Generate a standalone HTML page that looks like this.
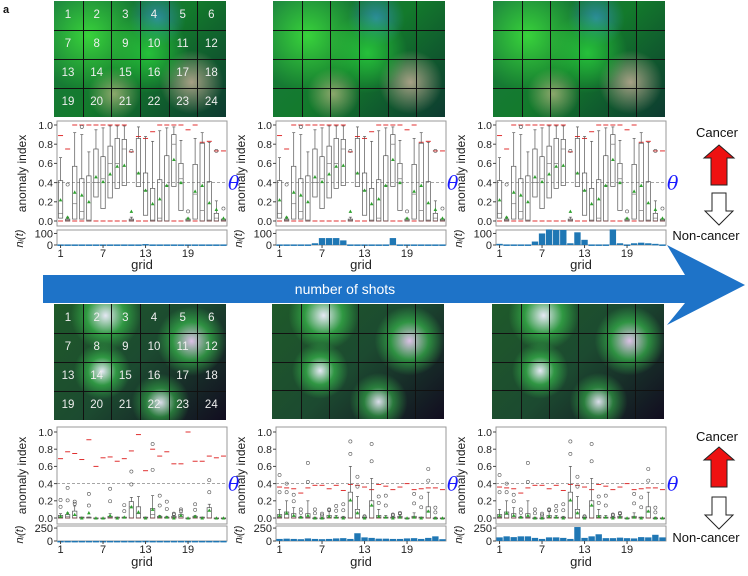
<!DOCTYPE html>
<html><head><meta charset="utf-8">
<style>
body{margin:0;background:#fff;}
#root{position:relative;width:748px;height:576px;overflow:hidden;font-family:"Liberation Sans","DejaVu Sans",sans-serif;}
.img{position:absolute;overflow:hidden;}
.num{position:absolute;color:#eee;font-size:11.5px;text-align:center;width:28px;}
</style></head>
<body>
<div id="root">
<svg id="svg" width="748" height="576" style="position:absolute;left:0;top:0"></svg>
</div>
<script>
// ---- data ----
const grids = ["1","7","13","19"];
const gridTickIdx = [0,6,12,18];
const yTicks = [0,0.2,0.4,0.6,0.8,1.0];
const theta = 0.4;
// row 1 (early shots)
const r1Q1 = [.03,0,.02,.02,0,.25,.13,.24,.34,.37,0,.36,.06,0,0,0,.36,.11,0,.02,0,0,0,0];
const r1Q3 = [.42,.02,.57,.44,.47,.75,.67,.78,.86,.85,.02,.86,.50,.34,.43,.68,.90,.60,.02,.59,.81,.41,.08,.02];
const r1Med = [.08,.01,.18,.10,.01,.40,.44,.60,.60,.75,.01,.50,.32,.01,.03,.37,.80,.44,.01,.28,.11,.01,.03,.01];
const r1Hi = [.66,.04,.92,.90,.72,.95,.97,.99,.99,.99,.04,.98,.88,.83,.94,.97,.98,.84,.03,.86,.92,.82,.21,.02];
const r1Mean = [.22,.04,.30,.27,.20,.46,.41,.49,.57,.58,.10,.50,.32,.18,.23,.37,.64,.40,.03,.31,.37,.19,.12,.03];
const r1Red = [.89,.75,1,1,1,1,1,1,1,1,.72,.88,.86,.93,1,1,1,1,.95,1,.82,.83,.73,.73];
const r1Out = [0,.38,0,.98,0,0,0,0,0,0,.73,0,0,0,0,0,0,0,.10,0,0,0,.73,.13];
const c1Count1 = [5,5,5,5,5,5,5,5,5,5,5,5,8,5,5,5,5,5,5,5,5,5,5,5];
const c2Count1 = [5,5,5,5,5,15,60,60,60,40,5,5,5,5,5,5,60,5,5,5,5,5,5,5];
const c3Count1 = [10,5,5,5,5,30,100,135,130,130,15,110,45,5,5,5,135,15,5,15,20,15,10,5];
// row 2 (late shots)
const r2aQ3 = [.03,.04,.08,.01,.01,0,0,.02,.01,.01,.19,.13,.01,.11,.02,.01,.02,.04,0,.02,.01,.12,0,0];
const r2aMed = [.01,.02,.03,0,0,0,0,.01,0,0,.13,.05,0,.04,.01,0,.01,.02,0,.01,0,.08,0,0];
const r2aHi = [.05,.06,.14,.01,.01,0,0,.05,.01,.01,.24,.25,.01,.26,.03,.02,.03,.06,0,.03,.01,.16,0,0];
const r2aMean = [.02,.06,.04,0,.06,0,0,.03,0,.01,.13,.07,0,.10,.02,.01,0,.03,0,.02,0,.09,0,0];
const r2aRed = [.69,.77,.75,.68,.91,.60,.70,.71,.66,.69,.78,.97,.55,.80,.72,.77,.63,.63,1.0,.66,.66,.72,.70,.72];
const r2aOut = [.21,.35,.19,0,.28,0,0,.34,0,.15,.54,0,0,.86,.26,.19,.05,.1,0,.16,0,.44,0,0];
const r2bQ3 = [.04,.07,.05,.01,.05,0,0,.03,.01,.01,.30,.10,.01,.20,.03,.01,.01,.02,0,.02,.01,.13,0,0];
const r2bMed = [.01,.04,.02,0,.01,0,0,.01,0,0,.20,.06,0,.14,.01,0,0,.01,0,.01,0,.08,0,0];
const r2bHi = [.10,.20,.12,.02,.20,.01,.01,.08,.03,.02,.60,.25,.01,.46,.10,.03,.02,.04,0,.06,.01,.30,.01,0];
const r2bMean = [.03,.06,.03,.01,.03,0,0,.02,.01,0,.21,.06,0,.15,.02,.01,0,.01,0,.01,0,.08,0,0];
const r2bRed = [.36,.35,.34,.29,.35,.38,.38,.34,.38,.32,.39,.38,.36,.33,.39,.37,.33,.36,.40,.33,.34,.35,.35,.33];
const r2bOut = [.50,.40,.27,.10,.64,.10,.05,.10,.14,.16,.89,.48,.02,.86,.25,.26,.04,.06,0,.28,.24,.57,.12,0];
const c1Count2 = [2,2,2,2,2,2,2,2,2,2,2,2,4,2,2,2,2,2,2,2,2,2,2,2];
const c2Count2 = [40,45,40,35,50,40,35,40,50,55,40,150,70,60,45,45,40,40,50,55,40,60,90,35];
const c3Count2 = [70,90,75,90,90,60,40,70,70,60,40,270,60,90,130,55,55,65,55,50,75,70,120,70];

const S = document.getElementById('svg');
const NS = 'http://www.w3.org/2000/svg';
function mk(tag, attrs, parent){const e=document.createElementNS(NS,tag);for(const k in attrs)e.setAttribute(k,attrs[k]);(parent||S).appendChild(e);return e;}

const colX = [57,276,496];
const rows = [
 {top:121,bot:226,y0:221,y1:125,sTop:230,sBot:245,sMax:130,sTick:"100",sTickV:100,tickY:257,gridY:269},
 {top:427,bot:524,y0:518,y1:432,sTop:526,sBot:541,sMax:290,sTick:"250",sTickV:250,tickY:553,gridY:566}
];
const panels = [
 {r:0,c:0,q1:r1Q1,q3:r1Q3,med:r1Med,hi:r1Hi,mean:r1Mean,red:r1Red,out:r1Out,cnt:c1Count1},
 {r:0,c:1,q1:r1Q1,q3:r1Q3,med:r1Med,hi:r1Hi,mean:r1Mean,red:r1Red,out:r1Out,cnt:c2Count1},
 {r:0,c:2,q1:r1Q1,q3:r1Q3,med:r1Med,hi:r1Hi,mean:r1Mean,red:r1Red,out:r1Out,cnt:c3Count1},
 {r:1,c:0,q1:null,q3:r2aQ3,med:r2aMed,hi:r2aHi,mean:r2aMean,red:r2aRed,out:r2aOut,cnt:c1Count2},
 {r:1,c:1,q1:null,q3:r2bQ3,med:r2bMed,hi:r2bHi,mean:r2bMean,red:r2bRed,out:r2bOut,cnt:c2Count2},
 {r:1,c:2,q1:null,q3:r2bQ3,med:r2bMed,hi:r2bHi,mean:r2bMean,red:r2bRed,out:r2bOut,cnt:c3Count2}
];
const W = 170;

// big arrow
const arrow = mk('polygon',{points:"43,275 685,275 667,245 745,285 667,325 685,303 43,303",fill:"#1e73c8"});


const at = mk('text',{x:345,y:294,'font-size':14,fill:'#fff','text-anchor':'middle'});
at.textContent='number of shots';



panels.forEach((p,pi)=>{
  const R = rows[p.r], x0 = colX[p.c];
  const step = W/24;
  const X = i => x0 + (i+0.5)*step;
  const Y = v => R.y0 - v*(R.y0-R.y1);
  const g = mk('g',{});
  
  
  mk('rect',{x:x0,y:R.top,width:W,height:R.bot-R.top,fill:'#fff',stroke:'#999','stroke-width':1},g);
  yTicks.forEach(v=>{
    mk('line',{x1:x0-3,x2:x0,y1:Y(v),y2:Y(v),stroke:'#444'},g);
    const t=mk('text',{x:x0-4,y:Y(v)+3.8,'font-size':10.5,'text-anchor':'end',fill:'#222'},g);
    t.textContent=v.toFixed(1);
  });
  const yl=mk('text',{x:0,y:0,'font-size':12,'text-anchor':'middle',fill:'#222',transform:`translate(${x0-31},${(R.top+R.bot)/2}) rotate(-90)`},g);
  yl.textContent='anomaly index';
  
  
  mk('line',{x1:x0,x2:x0+W,y1:Y(theta),y2:Y(theta),stroke:'#888','stroke-dasharray':'3,2','stroke-width':0.8},g);
  const th=mk('text',{x:x0+W+1,y:Y(theta)+7,'font-size':19,'font-style':'italic',fill:'#1a1aff','font-family':'DejaVu Serif,serif'},g);
  th.textContent='θ';
  
  
  for(let i=0;i<24;i++){
    const cx=X(i), bw=step*0.62;
    const q1=p.q1?p.q1[i]:0;
    mk('line',{x1:cx-2.5,x2:cx+2.5,y1:Y(p.red[i]),y2:Y(p.red[i]),stroke:'#e03030','stroke-width':1},g);
    mk('line',{x1:cx-2.5,x2:cx+2.5,y1:Y(0),y2:Y(0),stroke:'#e03030','stroke-width':1},g);
    mk('line',{x1:cx,x2:cx,y1:Y(p.q3[i]),y2:Y(p.hi[i]),stroke:'#555','stroke-width':0.7},g);
    mk('line',{x1:cx-1.5,x2:cx+1.5,y1:Y(p.hi[i]),y2:Y(p.hi[i]),stroke:'#555','stroke-width':0.7},g);
    const b=mk('rect',{x:cx-bw/2,y:Y(p.q3[i]),width:bw,height:Math.max(0.8,Y(q1)-Y(p.q3[i])),fill:'none',stroke:'#555','stroke-width':0.7},g);
    
    
    mk('line',{x1:cx-bw/2,x2:cx+bw/2,y1:Y(p.med[i]),y2:Y(p.med[i]),stroke:'#777','stroke-width':0.7},g);
    if(p.out[i]>0){
      mk('circle',{cx:cx,cy:Y(p.out[i]),r:1.6,fill:'none',stroke:'#555','stroke-width':0.6},g);
      if(p.r===1) mk('circle',{cx:cx,cy:Y((p.out[i]+p.hi[i])/2),r:1.6,fill:'none',stroke:'#555','stroke-width':0.6},g);
    }
    mk('polygon',{points:`${cx-1.8},${Y(p.mean[i])+1.5} ${cx+1.8},${Y(p.mean[i])+1.5} ${cx},${Y(p.mean[i])-1.8}`,fill:'#2ca02c'},g);
  }
  mk('rect',{x:x0,y:R.sTop,width:W,height:R.sBot-R.sTop,fill:'#fff',stroke:'#999'},g);
  const SY = v => R.sBot - v/R.sMax*(R.sBot-R.sTop);
  [[R.sTick,R.sTickV],["0",0]].forEach(([lab,v])=>{
    const t=mk('text',{x:x0-4,y:SY(v)+4,'font-size':11,'text-anchor':'end',fill:'#222'},g);t.textContent=lab;
    mk('line',{x1:x0-3,x2:x0,y1:SY(v),y2:SY(v),stroke:'#444'},g);
  });
  const nl=mk('text',{x:0,y:0,'font-size':11,'font-style':'italic','text-anchor':'middle',fill:'#222',transform:`translate(${x0-34},${(R.sTop+R.sBot)/2+1}) rotate(-90)`},g);
  nl.textContent='nᵢ(t)';
  for(let i=0;i<24;i++){
    const bar=mk('rect',{x:X(i)-step*0.45,y:SY(p.cnt[i]),width:step*0.9,height:Math.max(1.5,R.sBot-SY(p.cnt[i])),fill:'#1f77b4'},g);
    
    
  }
  gridTickIdx.forEach((gi,k)=>{
    mk('line',{x1:X(gi),x2:X(gi),y1:R.sBot,y2:R.sBot+3,stroke:'#444'},g);
    const t=mk('text',{x:X(gi),y:R.tickY,'font-size':11,'text-anchor':'middle',fill:'#222'},g);t.textContent=grids[k];
  });
  const gl=mk('text',{x:x0+W/2,y:R.gridY,'font-size':13,'text-anchor':'middle',fill:'#222'},g);
  gl.textContent='grid';
  
  
});

[[137,240,145,193],[441,542,447,497]].forEach(([cy,ny,ry,wy],k)=>{
  const c=mk('text',{x:717,y:cy,'font-size':13,'text-anchor':'middle',fill:'#111'});c.textContent='Cancer';
  
  
  mk('polygon',{points:`711,${ry+40} 711,${ry+13} 704,${ry+13} 719,${ry} 734,${ry+13} 727,${ry+13} 727,${ry+40}`,fill:'#ee1111',stroke:'#222','stroke-width':1});
  mk('polygon',{points:`712,${wy} 712,${wy+18} 705,${wy+18} 719,${wy+32} 733,${wy+18} 726,${wy+18} 726,${wy}`,fill:'#fff',stroke:'#222','stroke-width':1});
  const n=mk('text',{x:706,y:ny,'font-size':13,'text-anchor':'middle',fill:'#111'});n.textContent='Non-cancer';
  
  
});
const lab=mk('text',{x:3,y:13,'font-size':11,'font-weight':'bold',fill:'#111'});lab.textContent='a';

const root=document.getElementById('root');
const imgs=[[54,1,116,0],[273,1,116,0],[493,1,116,0],[54,304,116,1],[272,304,115,1],[492,304,115,1]];
imgs.forEach(([x,y,h,r],k)=>{
  const d=document.createElement('div');
  d.className='img';
  
  
  d.style.left=x+'px';d.style.top=y+'px';d.style.width='172px';d.style.height=h+'px';
  d.style.background = r===0 ?
   'radial-gradient(circle at 20% 30%,rgba(60,220,60,.9),transparent 35%),radial-gradient(circle at 55% 45%,rgba(40,200,60,.9),transparent 35%),radial-gradient(circle at 80% 70%,rgba(230,190,170,.7),transparent 20%),radial-gradient(circle at 35% 80%,rgba(220,200,150,.6),transparent 18%),radial-gradient(circle at 60% 15%,rgba(60,150,230,.6),transparent 20%),linear-gradient(135deg,#1a7a40,#137a2c 50%,#0d3a30)' :
   'radial-gradient(circle at 30% 10%,rgba(240,240,255,.95),rgba(60,200,80,.6) 12%,transparent 22%),radial-gradient(circle at 80% 32%,rgba(230,200,240,.95),rgba(60,200,80,.6) 12%,transparent 22%),radial-gradient(circle at 28% 58%,rgba(240,240,255,.95),rgba(60,200,80,.6) 10%,transparent 20%),radial-gradient(circle at 62% 85%,rgba(240,240,255,.9),rgba(60,200,80,.5) 10%,transparent 20%),linear-gradient(135deg,#1f5a2a,#1c4a30 50%,#120d20)';
  for(let i=1;i<6;i++){const l=document.createElement('div');l.style.cssText=`position:absolute;left:${i*172/6}px;top:0;width:1px;height:100%;background:#111`;d.appendChild(l);}
  for(let i=1;i<4;i++){const l=document.createElement('div');l.style.cssText=`position:absolute;top:${i*h/4}px;left:0;height:1px;width:100%;background:#111`;d.appendChild(l);}
  if(x===54){
    for(let n=0;n<24;n++){const t=document.createElement('div');t.className='num';
      t.style.left=((n%6)*172/6)+'px';t.style.top=(Math.floor(n/6)*h/4+h/8-7)+'px';t.textContent=String(n+1);d.appendChild(t);}
  }
  root.appendChild(d);
});
</script>
</body></html>
